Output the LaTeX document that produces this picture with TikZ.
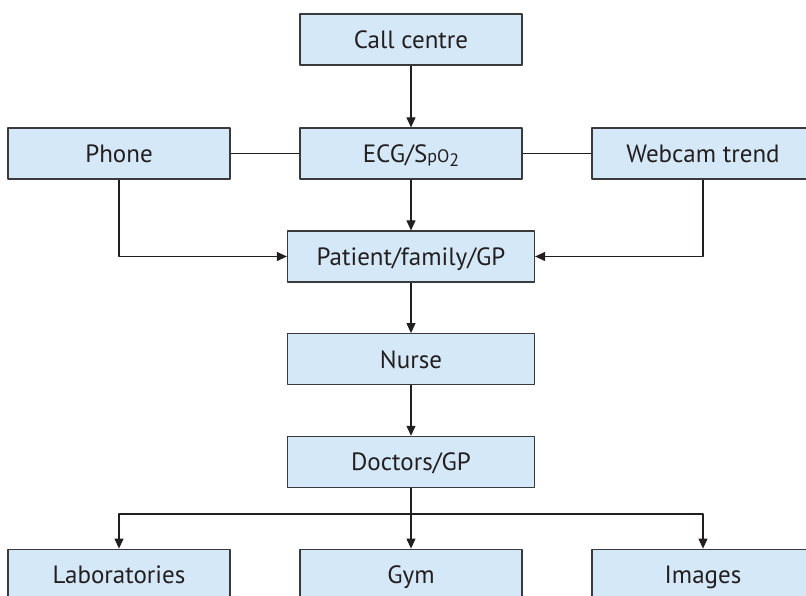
\documentclass[tikz,border=0pt]{standalone}
\usepackage{fontspec}
\setmainfont{PT Sans}
\usetikzlibrary{arrows.meta}

\definecolor{boxfill}{HTML}{D5E8F7}
\definecolor{boxline}{HTML}{3A3A3C}
\definecolor{ink}{HTML}{231F20}

\begin{document}
\begin{tikzpicture}[x=1pt, y=1pt, line join=round,
    box/.style={draw=boxline, fill=boxfill, line width=1.2pt,
        minimum width=222pt, minimum height=51pt, inner sep=0pt,
        text height=20pt, text depth=2pt,
        text=ink, font=\fontsize{25}{29}\selectfont},
    widebox/.style={box, minimum width=247pt},
    link/.style={draw=ink, line width=1.1pt},
    arrow/.style={link, -{Triangle[length=10pt, width=9pt]}}]
    \useasboundingbox (0,0) rectangle (806,596);

    % Sources
    \node[box] (call)   at (411, 556.5) {Call centre};
    \node[box] (phone)  at (119, 442.5) {Phone};
    \node[box] (ecg)    at (411, 442.5)
        {ECG/S{\fontsize{18}{18}\selectfont pO\raisebox{-4pt}{2}}};
    \node[box] (webcam) at (703, 442.5) {Webcam trend};

    % Care chain
    \node[widebox] (patient) at (411, 339.5) {Patient/family/GP};
    \node[widebox] (nurse)   at (411, 236.8) {Nurse};
    \node[widebox] (doctors) at (411, 134.1) {Doctors/GP};

    % Services (bottom row, cut by the page edge)
    \node[box] (labs)   at (119, 21.3) {Laboratories};
    \node[box] (gym)    at (411, 21.3) {Gym};
    \node[box] (images) at (703, 21.3) {Images};

    % Connectors
    \draw[arrow] (call) -- (ecg);
    \draw[link]  (phone) -- (ecg);
    \draw[link]  (ecg) -- (webcam);
    \draw[arrow] (ecg) -- (patient);
    \draw[arrow] (phone.south) |- (patient.west);
    \draw[arrow] (webcam.south) |- (patient.east);
    \draw[arrow] (patient) -- (nurse);
    \draw[arrow] (nurse) -- (doctors);

    % Split to services
    \coordinate (split) at (411, 82);
    \draw[link]  (doctors) -- (split);
    \draw[arrow] (split) -- (gym);
    \draw[arrow] (split) -| (labs.north);
    \draw[arrow] (split) -| (images.north);
\end{tikzpicture}
\end{document}
